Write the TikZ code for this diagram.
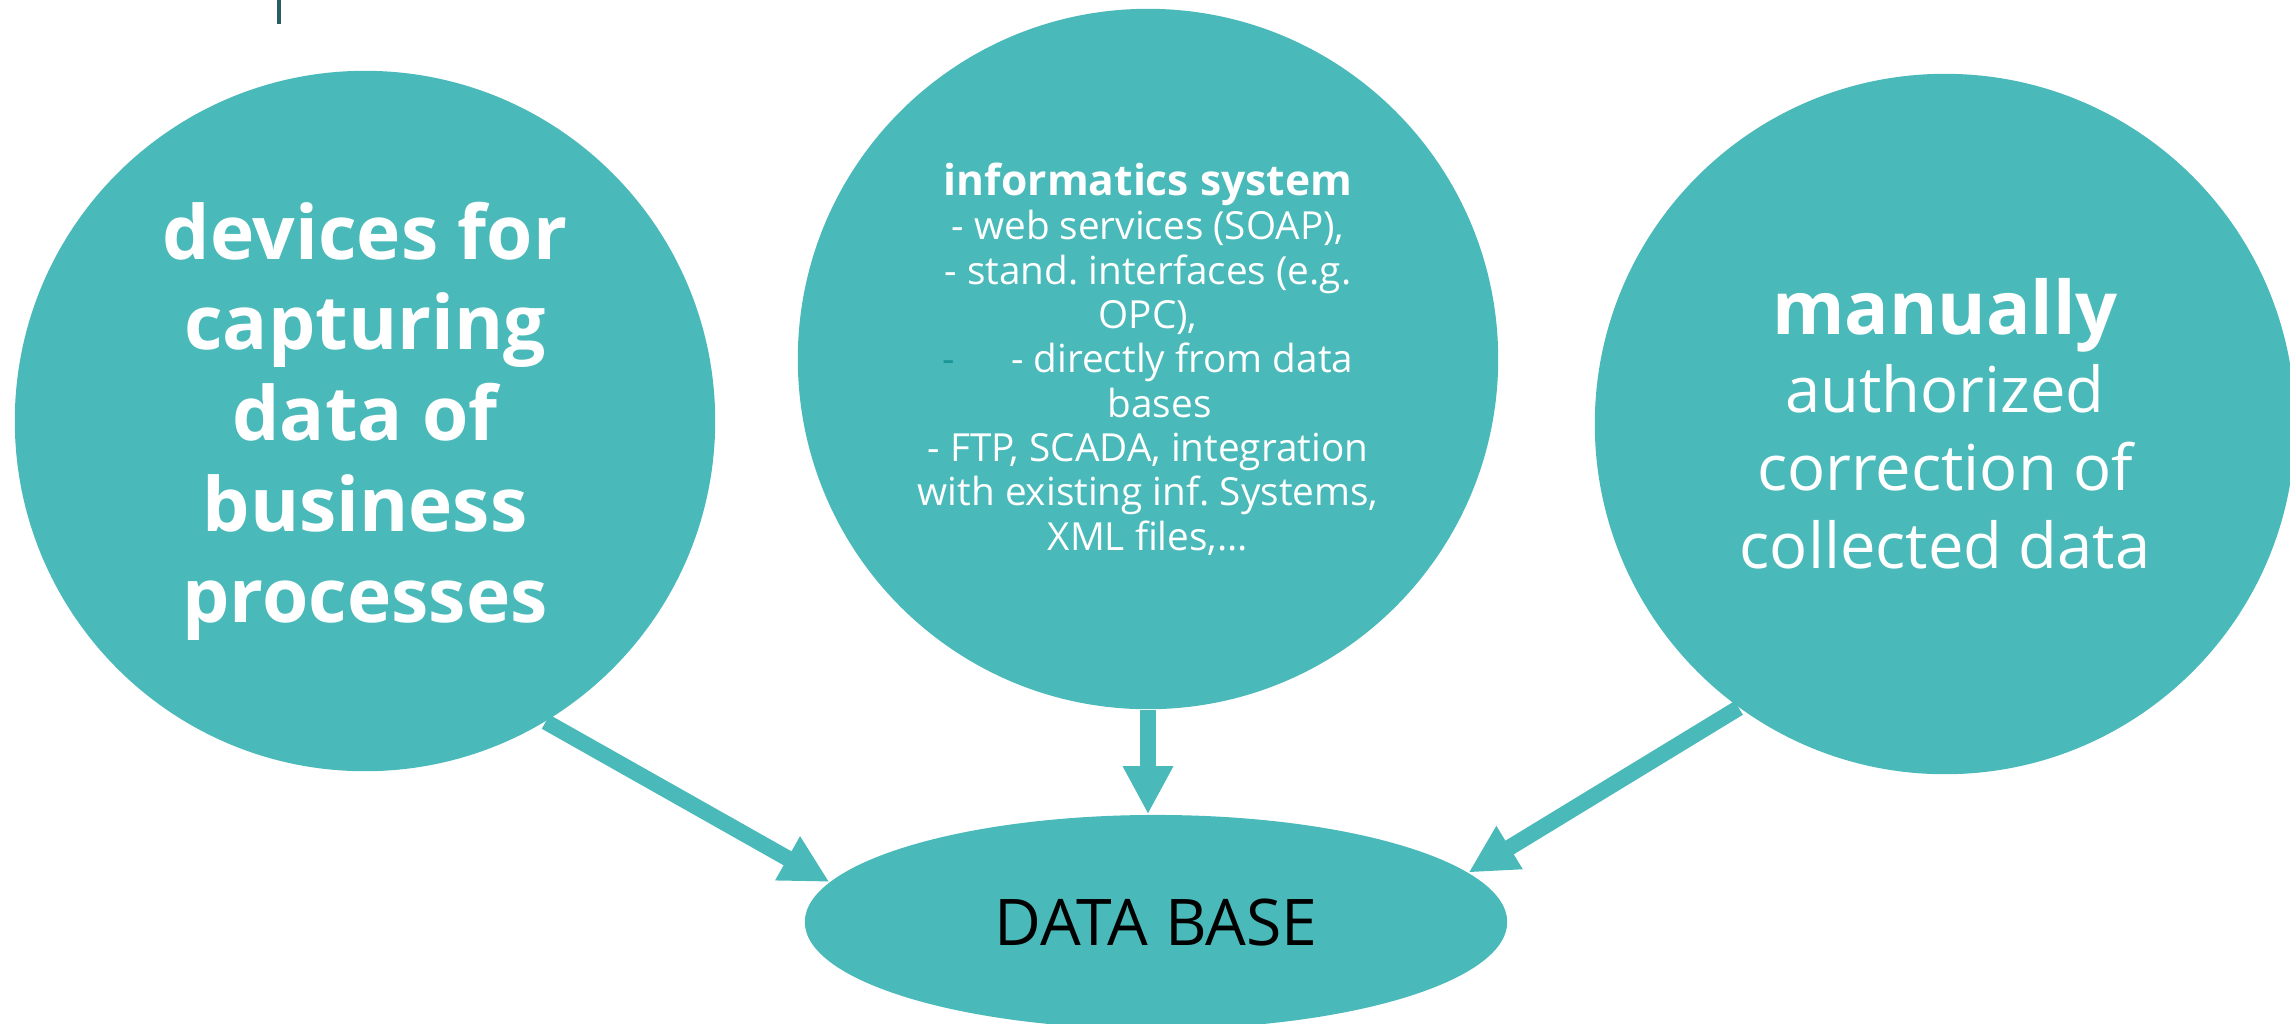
\documentclass[tikz,border=0pt]{standalone}
\usepackage{fontspec}
\setmainfont{Open Sans}
\usetikzlibrary{arrows.meta,shapes.geometric}
\definecolor{tealfill}{RGB}{74,185,185}
\definecolor{tealdark}{RGB}{40,95,100}
\definecolor{tealmid}{RGB}{25,150,150}
\frenchspacing

\begin{document}
\begin{tikzpicture}
[x=0.01cm,y=-0.01cm,
 bubble/.style={shape=circle,fill=tealfill,minimum size=7cm,inner sep=0pt,text=white,align=center},%
 dbnode/.style={shape=ellipse,fill=tealfill,minimum width=7.02cm,minimum height=2.14cm,inner sep=0pt},%
 flowline/.style={draw=tealfill,line width=0.16cm,-{Triangle[width=0.47cm,length=0.48cm]}}]
\useasboundingbox (0,0) rectangle (2290,1023);
%% small mark in the corner
\fill[tealdark] (277,0) rectangle (281,24);
%% nodes or sources
\node (devices) at (365,421) [bubble,font=\fontsize{21.3pt}{25.8pt}\selectfont\bfseries]
  {devices for\\capturing\\data of\\business\\processes};
\node (info) at (1148,359) [bubble,font=\fontsize{11pt}{12.6pt}\selectfont]
  {{\fontsize{12.1pt}{12.6pt}\selectfont\bfseries informatics system}\\- web services (SOAP),\\
   - stand. interfaces (e.g.\\OPC),\\
   {\color{tealmid}-}\hspace{1.45em}- directly from data\\\hspace*{0.6em}bases\\
   - FTP, SCADA, integration\\with existing inf. Systems,\\XML files,...};
\node (manual) at (1945,424) [bubble,font=\fontsize{18pt}{22.2pt}\selectfont]
  {{\fontsize{21pt}{22.2pt}\selectfont\bfseries manually}\\authorized\\correction of\\collected data};
\node (db) at (1156,922) [dbnode,font=\fontsize{18.3pt}{21pt}\selectfont] {DATA BASE};
%% arrows into the data base
\path
\foreach \startnode/\endnode in {devices.-59/db.173, manual.-126/db.9} {
  (\startnode) edge[flowline] (\endnode)
};
\draw[flowline] (info.south) -- (info.south |- db.north);
\end{tikzpicture}
\end{document}
